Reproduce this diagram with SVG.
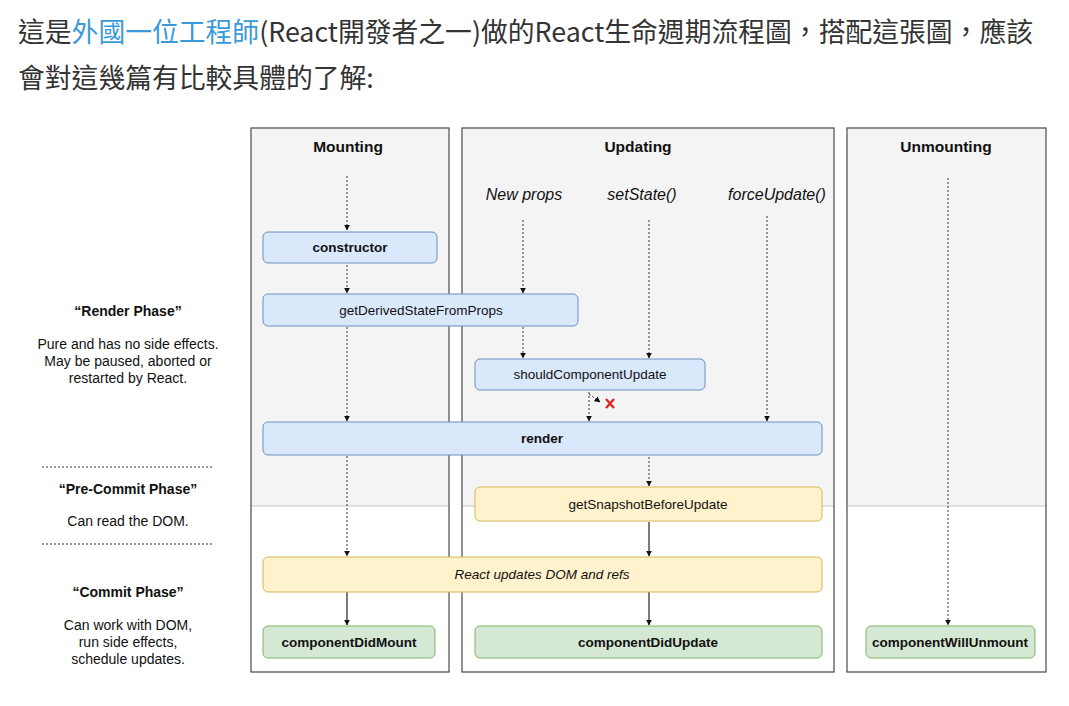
<svg xmlns="http://www.w3.org/2000/svg" width="1069" height="706" viewBox="0 0 1069 706">
<style>
.hdr{font-family:"Noto Sans CJK TC","Noto Sans",sans-serif;font-size:26.8px;fill:#333}
.link{fill:#3a9ad9}
.col-title{font-family:"Liberation Sans",Arial,sans-serif;font-size:15.5px;font-weight:bold;fill:#111;text-anchor:middle}
.trig{font-family:"Liberation Sans",Arial,sans-serif;font-size:16px;font-style:italic;fill:#111;text-anchor:middle}
.nt{font-family:"Liberation Sans",Arial,sans-serif;font-size:13.5px;fill:#111;text-anchor:middle}
.b{font-weight:bold}
.i{font-style:italic}
.side{font-family:"Liberation Sans",Arial,sans-serif;font-size:14px;fill:#111;text-anchor:middle}
.col{fill:none;stroke:#4a4a4a;stroke-width:1.2}
.gray{fill:#f4f4f4}
.sep{stroke:#c8c8c8;stroke-width:1.2}
.blue{fill:#dae8fc;stroke:#6c8ebf;stroke-width:1}
.yellow{fill:#fff2cc;stroke:#d6b656;stroke-width:1}
.green{fill:#d5e8d4;stroke:#82b366;stroke-width:1}
.dot{fill:none;stroke:#333;stroke-width:1;stroke-dasharray:2,2;marker-end:url(#ah)}
.solid{fill:none;stroke:#222;stroke-width:1.2;marker-end:url(#ah)}
.phase{stroke:#333;stroke-width:1;stroke-dasharray:2,2}
</style>
<defs>
<marker id="ah" viewBox="0 0 10 10" refX="9" refY="5" markerWidth="6" markerHeight="6" markerUnits="userSpaceOnUse" orient="auto">
<path d="M0,0 L10,5 L0,10 z" fill="#111"/>
</marker>
</defs>
<rect width="1069" height="706" fill="#fff"/>
<g id="intro">
<text class="hdr" x="18" y="42">這是<tspan class="link">外國一位工程師</tspan>(React開發者之一)做的React生命週期流程圖，搭配這張圖，應該</text>
<text class="hdr" x="18" y="88">會對這幾篇有比較具體的了解:</text>
</g>
<g id="columns">
<rect class="gray" x="251" y="128" width="198" height="378"/>
<rect class="gray" x="462" y="128" width="372" height="378"/>
<rect class="gray" x="847" y="128" width="199" height="378"/>
<line class="sep" x1="251" y1="506" x2="449" y2="506"/>
<line class="sep" x1="462" y1="506" x2="834" y2="506"/>
<line class="sep" x1="847" y1="506" x2="1046" y2="506"/>
<rect class="col" x="251" y="128" width="198" height="544"/>
<rect class="col" x="462" y="128" width="372" height="544"/>
<rect class="col" x="847" y="128" width="199" height="544"/>
<text class="col-title" x="348" y="152">Mounting</text>
<text class="col-title" x="638" y="152">Updating</text>
<text class="col-title" x="946" y="152">Unmounting</text>
<text class="trig" x="524" y="200">New props</text>
<text class="trig" x="642" y="200">setState()</text>
<text class="trig" x="777" y="200">forceUpdate()</text>
</g>
<g id="phases">
<text class="side b" x="128" y="316">“Render Phase”</text>
<text class="side" x="128" y="349">Pure and has no side effects.</text>
<text class="side" x="128" y="366">May be paused, aborted or</text>
<text class="side" x="128" y="383">restarted by React.</text>
<line class="phase" x1="42" y1="467" x2="213" y2="467"/>
<text class="side b" x="128" y="494">“Pre-Commit Phase”</text>
<text class="side" x="128" y="526">Can read the DOM.</text>
<line class="phase" x1="42" y1="544" x2="213" y2="544"/>
<text class="side b" x="128" y="597">“Commit Phase”</text>
<text class="side" x="128" y="630">Can work with DOM,</text>
<text class="side" x="128" y="647">run side effects,</text>
<text class="side" x="128" y="664">schedule updates.</text>
</g>
<g id="connectors">
<path class="dot" d="M347,176 V230"/>
<path class="dot" d="M347,265 V293"/>
<path class="dot" d="M347,327 V421"/>
<path class="dot" d="M347,456 V556"/>
<path class="dot" d="M523,220 V293"/>
<path class="dot" d="M523,327 V358"/>
<path class="dot" d="M649,220 V358"/>
<path class="dot" d="M767,216 V421"/>
<path class="dot" d="M589,392 V421"/>
<path class="dot" d="M589,394 L600,402"/>
<path class="dot" d="M649,457 V486"/>
<path class="dot" d="M948,178 V625"/>
<path class="solid" d="M649,522 V556"/>
<path class="solid" d="M347,592 V625"/>
<path class="solid" d="M649,592 V625"/>
<path d="M606,399 L614,408 M614,399 L606,408" stroke="#e02020" stroke-width="2.2" fill="none"/>
</g>
<g id="constructor">
<rect class="blue" x="263" y="232" width="174" height="31" rx="5"/>
<text class="nt b" x="350" y="252">constructor</text>
</g>
<g id="getDerivedStateFromProps">
<rect class="blue" x="263" y="294" width="315" height="32" rx="5"/>
<text class="nt" x="421" y="315">getDerivedStateFromProps</text>
</g>
<g id="shouldComponentUpdate">
<rect class="blue" x="475" y="359" width="230" height="31" rx="5"/>
<text class="nt" x="590" y="379">shouldComponentUpdate</text>
</g>
<g id="render">
<rect class="blue" x="263" y="422" width="559" height="33" rx="5"/>
<text class="nt b" x="542" y="443">render</text>
</g>
<g id="getSnapshotBeforeUpdate">
<rect class="yellow" x="475" y="487" width="347" height="34" rx="5"/>
<text class="nt" x="648" y="509">getSnapshotBeforeUpdate</text>
</g>
<g id="reactUpdatesDOM">
<rect class="yellow" x="263" y="557" width="559" height="35" rx="5"/>
<text class="nt i" x="542" y="579">React updates DOM and refs</text>
</g>
<g id="componentDidMount">
<rect class="green" x="263" y="626" width="172" height="32" rx="5"/>
<text class="nt b" x="349" y="647">componentDidMount</text>
</g>
<g id="componentDidUpdate">
<rect class="green" x="475" y="626" width="347" height="32" rx="5"/>
<text class="nt b" x="648" y="647">componentDidUpdate</text>
</g>
<g id="componentWillUnmount">
<rect class="green" x="866" y="626" width="169" height="32" rx="5"/>
<text class="nt b" x="950" y="647">componentWillUnmount</text>
</g>
</svg>
